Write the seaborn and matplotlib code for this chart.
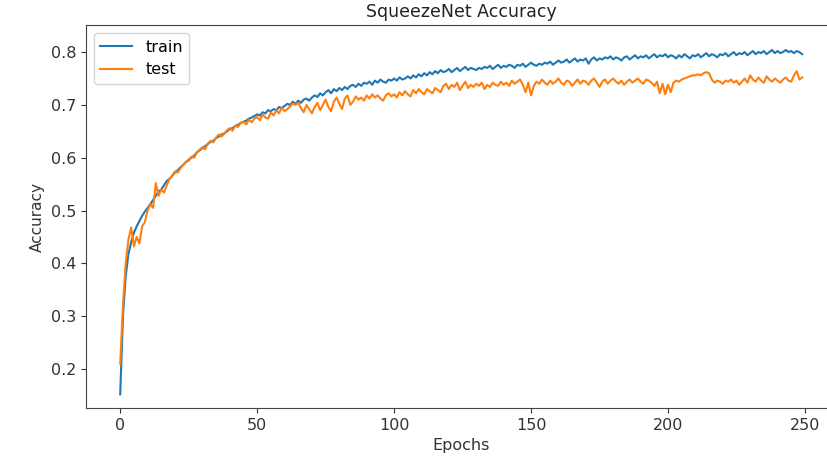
import matplotlib
matplotlib.use("Agg")
import matplotlib.pyplot as plt
import numpy as np
import pandas as pd
import seaborn as sns

# accuracy per epoch
train_acc = [
    0.152, 0.300, 0.375, 0.418, 0.440, 0.458, 0.470, 0.480, 0.490, 0.498,
    0.505, 0.512, 0.520, 0.528, 0.536, 0.540, 0.548, 0.556, 0.560, 0.566,
    0.572, 0.576, 0.582, 0.586, 0.592, 0.596, 0.600, 0.604, 0.610, 0.614,
    0.618, 0.622, 0.626, 0.630, 0.632, 0.637, 0.640, 0.644, 0.646, 0.650,
    0.654, 0.656, 0.660, 0.662, 0.666, 0.668, 0.670, 0.674, 0.676, 0.679,
    0.682, 0.680, 0.686, 0.684, 0.690, 0.688, 0.692, 0.690, 0.696, 0.694,
    0.698, 0.702, 0.700, 0.706, 0.702, 0.708, 0.704, 0.710, 0.712, 0.708,
    0.714, 0.718, 0.715, 0.722, 0.718, 0.724, 0.728, 0.722, 0.730, 0.726,
    0.732, 0.728, 0.734, 0.730, 0.736, 0.738, 0.734, 0.740, 0.736, 0.742,
    0.740, 0.744, 0.738, 0.746, 0.742, 0.748, 0.744, 0.742, 0.748, 0.746,
    0.750, 0.746, 0.752, 0.748, 0.750, 0.754, 0.750, 0.756, 0.752, 0.758,
    0.754, 0.760, 0.756, 0.762, 0.758, 0.764, 0.760, 0.766, 0.762, 0.764,
    0.768, 0.762, 0.766, 0.770, 0.764, 0.768, 0.772, 0.766, 0.770, 0.768,
    0.766, 0.770, 0.768, 0.772, 0.770, 0.774, 0.768, 0.772, 0.776, 0.770,
    0.774, 0.772, 0.776, 0.774, 0.770, 0.776, 0.774, 0.778, 0.772, 0.776,
    0.780, 0.776, 0.774, 0.778, 0.776, 0.780, 0.778, 0.782, 0.776, 0.780,
    0.784, 0.780, 0.782, 0.786, 0.780, 0.784, 0.788, 0.782, 0.786, 0.784,
    0.788, 0.778, 0.786, 0.790, 0.784, 0.788, 0.786, 0.790, 0.788, 0.792,
    0.786, 0.790, 0.788, 0.784, 0.790, 0.792, 0.786, 0.790, 0.794, 0.788,
    0.792, 0.790, 0.794, 0.788, 0.792, 0.796, 0.790, 0.794, 0.792, 0.796,
    0.790, 0.794, 0.792, 0.788, 0.794, 0.790, 0.796, 0.792, 0.788, 0.794,
    0.792, 0.796, 0.790, 0.794, 0.798, 0.792, 0.796, 0.794, 0.790, 0.796,
    0.794, 0.798, 0.792, 0.796, 0.800, 0.794, 0.798, 0.796, 0.800, 0.794,
    0.798, 0.802, 0.796, 0.800, 0.798, 0.802, 0.796, 0.800, 0.804, 0.798,
    0.802, 0.798, 0.800, 0.804, 0.800, 0.802, 0.798, 0.802, 0.800, 0.796,
]

test_acc = [
    0.210, 0.320, 0.400, 0.445, 0.468, 0.432, 0.450, 0.438, 0.470, 0.478,
    0.500, 0.512, 0.505, 0.552, 0.528, 0.540, 0.534, 0.548, 0.560, 0.566,
    0.574, 0.572, 0.580, 0.587, 0.592, 0.594, 0.602, 0.600, 0.610, 0.615,
    0.620, 0.616, 0.627, 0.632, 0.629, 0.638, 0.644, 0.640, 0.646, 0.652,
    0.656, 0.651, 0.661, 0.658, 0.666, 0.668, 0.663, 0.672, 0.667, 0.674,
    0.677, 0.671, 0.682, 0.676, 0.674, 0.686, 0.680, 0.690, 0.684, 0.695,
    0.688, 0.692, 0.697, 0.703, 0.700, 0.704, 0.694, 0.686, 0.700, 0.692,
    0.684, 0.696, 0.704, 0.690, 0.700, 0.710, 0.696, 0.688, 0.706, 0.714,
    0.702, 0.692, 0.712, 0.718, 0.700, 0.706, 0.716, 0.710, 0.714, 0.708,
    0.718, 0.712, 0.720, 0.714, 0.718, 0.712, 0.708, 0.718, 0.722, 0.716,
    0.720, 0.714, 0.724, 0.718, 0.726, 0.720, 0.716, 0.728, 0.722, 0.730,
    0.724, 0.720, 0.730, 0.726, 0.722, 0.732, 0.728, 0.724, 0.736, 0.740,
    0.730, 0.738, 0.734, 0.742, 0.728, 0.736, 0.744, 0.732, 0.738, 0.734,
    0.740, 0.736, 0.742, 0.730, 0.738, 0.734, 0.742, 0.738, 0.736, 0.744,
    0.738, 0.742, 0.736, 0.746, 0.740, 0.744, 0.748, 0.738, 0.724, 0.742,
    0.718, 0.736, 0.744, 0.740, 0.748, 0.742, 0.738, 0.746, 0.740, 0.744,
    0.750, 0.742, 0.738, 0.746, 0.744, 0.736, 0.742, 0.748, 0.740, 0.746,
    0.744, 0.738, 0.746, 0.750, 0.742, 0.734, 0.744, 0.748, 0.740, 0.746,
    0.750, 0.744, 0.740, 0.746, 0.738, 0.744, 0.748, 0.742, 0.746, 0.750,
    0.744, 0.740, 0.748, 0.746, 0.742, 0.736, 0.744, 0.722, 0.740, 0.720,
    0.738, 0.724, 0.742, 0.746, 0.744, 0.748, 0.750, 0.752, 0.754, 0.756,
    0.756, 0.758, 0.756, 0.760, 0.762, 0.760, 0.748, 0.742, 0.746, 0.744,
    0.740, 0.746, 0.744, 0.748, 0.742, 0.746, 0.738, 0.744, 0.750, 0.742,
    0.756, 0.748, 0.744, 0.752, 0.746, 0.742, 0.754, 0.748, 0.744, 0.750,
    0.746, 0.742, 0.748, 0.752, 0.746, 0.744, 0.756, 0.764, 0.748, 0.752,
]

epochs = np.arange(len(train_acc))

df = pd.DataFrame({
    "epoch": np.concatenate([epochs, epochs]),
    "acc": train_acc + test_acc,
    "set": ["train"] * len(train_acc) + ["test"] * len(test_acc),
})

plt.rcParams["font.family"] = ["DejaVu Sans"]
fig = plt.figure(figsize=(8.28, 4.57), dpi=100)
# the right edge of the axes runs off the picture, as in the reference
ax = fig.add_axes([0.104, 0.107, 0.906, 0.838])

sns.lineplot(data=df, x="epoch", y="acc", hue="set",
             palette={"train": "#1f77b4", "test": "#ff7f0e"},
             linewidth=1.5, ax=ax)

for side in ["top", "right", "left", "bottom"]:
    ax.spines[side].set_visible(True)
    ax.spines[side].set_color("#444444")

ax.set_xlim(-12.45, 261.45)
ax.set_ylim(0.126, 0.851)
ax.set_xticks([0, 50, 100, 150, 200, 250])
ax.set_yticks([0.2, 0.3, 0.4, 0.5, 0.6, 0.7, 0.8])
ax.tick_params(labelsize=11.5, colors="#333333")
ax.set_title("SqueezeNet Accuracy", fontsize=12.5, color="#222222")
ax.set_xlabel("Epochs", fontsize=11.5, color="#333333")
ax.set_ylabel("Accuracy", fontsize=11, color="#333333")
ax.legend(loc="upper left", fontsize=11.5, title=None)

fig.savefig("out.png", dpi=100)
